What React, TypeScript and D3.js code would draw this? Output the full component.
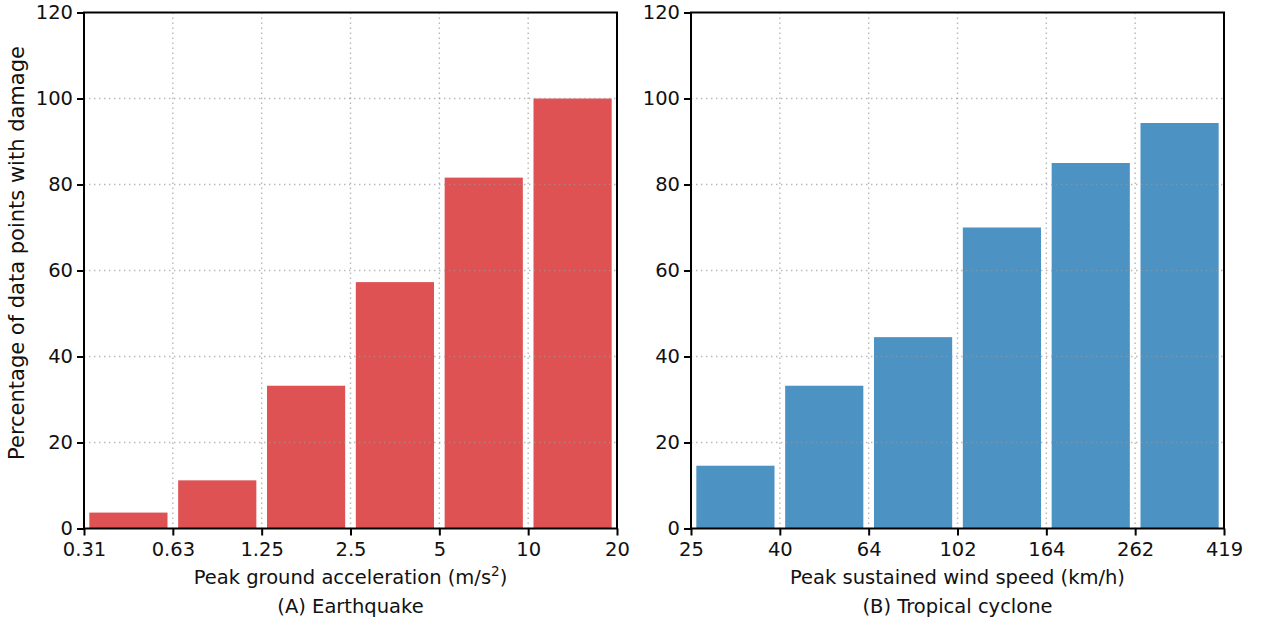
import React, { useRef, useEffect } from "react";
import * as d3 from "d3";

// bin edges (tick labels) and bar values
const quakeEdges = ["0.31", "0.63", "1.25", "2.5", "5", "10", "20"];
const quakeValues = [3.7, 11.2, 33.2, 57.3, 81.6, 100];
const cycloneEdges = ["25", "40", "64", "102", "164", "262", "419"];
const cycloneValues = [14.6, 33.2, 44.5, 70.0, 85.0, 94.3];
const yTicks = [0, 20, 40, 60, 80, 100, 120];

const W = 1263;
const H = 625;
const top = 12.5;
const bottom = 528.5;
const font = "'DejaVu Sans', sans-serif";
const fs = 19.5;

type Panel = {
  left: number;
  right: number;
  edges: string[];
  values: number[];
  color: string;
  xlabel: string;
  sup?: string;
  caption: string;
};

const panels: Panel[] = [
  {
    left: 84,
    right: 617,
    edges: quakeEdges,
    values: quakeValues,
    color: "#d62728",
    xlabel: "Peak ground acceleration (m/s",
    sup: "2",
    caption: "(A) Earthquake",
  },
  {
    left: 691,
    right: 1224,
    edges: cycloneEdges,
    values: cycloneValues,
    color: "#1f77b4",
    xlabel: "Peak sustained wind speed (km/h)",
    caption: "(B) Tropical cyclone",
  },
];

const App = () => {
  const svgRef = useRef<SVGSVGElement>(null);

  useEffect(() => {
    const svg = d3.select(svgRef.current);
    svg.selectAll("*").remove();

    const y = d3.scaleLinear().domain([0, 120]).range([bottom, top]);

    panels.forEach((p) => {
      const x = d3.scaleLinear().domain([0, p.edges.length - 1]).range([p.left, p.right]);
      const g = svg.append("g");
      const bw = (x(1) - x(0)) * 0.88;

      // bars
      g.selectAll(".bar")
        .data(p.values)
        .join("rect")
        .attr("class", "bar")
        .attr("x", (d, i) => x(i + 0.5) - bw / 2)
        .attr("width", bw)
        .attr("y", (d) => y(d))
        .attr("height", (d) => y(0) - y(d))
        .attr("fill", p.color)
        .attr("fill-opacity", 0.8);

      // grid on top
      const grid = g.append("g").attr("stroke", "#999").attr("stroke-opacity", 0.7)
        .attr("stroke-width", 1.4).attr("stroke-dasharray", "1.4,3.6");
      grid.selectAll(".gy")
        .data(yTicks.slice(1, -1))
        .join("line")
        .attr("x1", p.left).attr("x2", p.right)
        .attr("y1", (d) => y(d)).attr("y2", (d) => y(d));
      grid.selectAll(".gx")
        .data(d3.range(1, p.edges.length - 1))
        .join("line")
        .attr("y1", top).attr("y2", bottom)
        .attr("x1", (d) => x(d)).attr("x2", (d) => x(d));

      // frame
      g.append("rect")
        .attr("x", p.left).attr("y", top)
        .attr("width", p.right - p.left).attr("height", bottom - top)
        .attr("fill", "none").attr("stroke", "#000").attr("stroke-width", 2);

      // y axis
      const ya = g.append("g").attr("transform", `translate(${p.left},0)`)
        .call(d3.axisLeft(y).tickValues(yTicks).tickSize(7).tickPadding(4));
      // x axis
      const xa = g.append("g").attr("transform", `translate(0,${bottom})`)
        .call(d3.axisBottom(x).tickValues(d3.range(p.edges.length))
          .tickFormat((d, i) => p.edges[i]).tickSize(7).tickPadding(7));
      [ya, xa].forEach((a) => {
        a.select(".domain").remove();
        a.selectAll("line").attr("stroke", "#000").attr("stroke-width", 2);
        a.selectAll("text").attr("font-family", font).attr("font-size", fs).attr("fill", "#111");
      });

      const cx = (p.left + p.right) / 2;
      const xl = g.append("text")
        .attr("x", cx).attr("y", 584)
        .attr("text-anchor", "middle")
        .attr("font-family", font).attr("font-size", fs).attr("fill", "#111")
        .text(p.xlabel);
      if (p.sup) {
        xl.append("tspan").attr("baseline-shift", "super").attr("font-size", 13.5).text(p.sup);
        xl.append("tspan").text(")");
      }
      g.append("text")
        .attr("x", cx).attr("y", 613)
        .attr("text-anchor", "middle")
        .attr("font-family", font).attr("font-size", fs).attr("fill", "#111")
        .text(p.caption);
    });

    svg.append("text")
      .attr("transform", `translate(24,253) rotate(-90)`)
      .attr("text-anchor", "middle")
      .attr("font-family", font).attr("font-size", 21).attr("fill", "#111")
      .text("Percentage of data points with damage");
  }, []);

  return (
    <div style={{ position: "absolute", left: 0, top: 0 }}>
      <svg ref={svgRef} width={W} height={H} style={{ display: "block", background: "#fff" }} />
    </div>
  );
};

export default App;
